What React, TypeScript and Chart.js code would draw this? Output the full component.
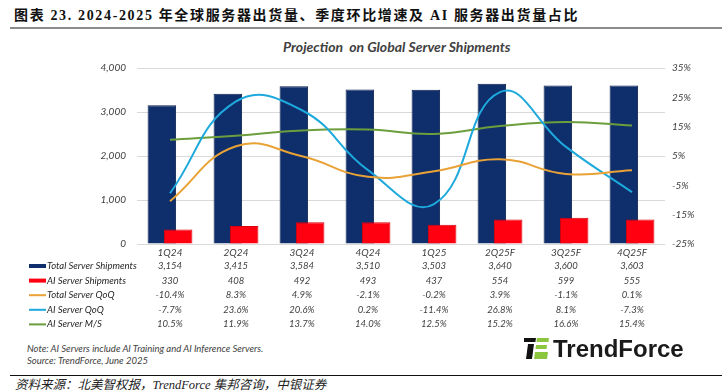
import React, { useEffect, useRef } from "react";
import { Chart, registerables } from "chart.js";

Chart.register(...registerables);

const quarters = ["1Q24", "2Q24", "3Q24", "4Q24", "1Q25", "2Q25F", "3Q25F", "4Q25F"];
const totalShipments = [3154, 3415, 3584, 3510, 3503, 3640, 3600, 3603];
const aiShipments = [330, 408, 492, 493, 437, 554, 599, 555];
const totalQoQ = [-10.4, 8.3, 4.9, -2.1, -0.2, 3.9, -1.1, 0.1];
const aiQoQ = [-7.7, 23.6, 20.6, 0.2, -11.4, 26.8, 8.1, -7.3];
const aiShare = [10.5, 11.9, 13.7, 14.0, 12.5, 15.2, 16.6, 15.4];

const NAVY = "#0F2E6C";
const RED = "#FF0010";
const ORANGE = "#E9A236";
const BLUE = "#1EA9DC";
const GREEN = "#6C9E3D";
const TEXT = "#404040";
const FONT = "Lato, 'Open Sans', sans-serif";

const fmtInt = (v: number) => v.toLocaleString("en-US");
const fmtPct = (v: number) => v.toFixed(1) + "%";

const tableRows = [
  { label: "Total Server Shipments", values: totalShipments.map(fmtInt), color: NAVY, kind: "bar" },
  { label: "AI Server Shipments", values: aiShipments.map(fmtInt), color: RED, kind: "bar" },
  { label: "Total Server QoQ", values: totalQoQ.map(fmtPct), color: ORANGE, kind: "line" },
  { label: "AI Server QoQ", values: aiQoQ.map(fmtPct), color: BLUE, kind: "line" },
  { label: "AI Server M/S", values: aiShare.map(fmtPct), color: GREEN, kind: "line" },
];

const NAVY_IDX = 3;
const RED_IDX = 4;

// Draw the red bars right after the navy bars, so they sit above them (lines stay on top).
const drawOrderPlugin = {
  id: "drawOrder",
  beforeDatasetDraw(chart: any, args: any) {
    if (args.index === RED_IDX && !chart.$drawingRed) return false;
    return true;
  },
  afterDatasetDraw(chart: any, args: any) {
    if (args.index === NAVY_IDX) {
      chart.$drawingRed = true;
      chart.getDatasetMeta(RED_IDX).controller.draw();
      chart.$drawingRed = false;
    }
  },
};

const tablePlugin = {
  id: "dataTable",
  afterDraw(chart: any) {
    const { ctx, chartArea, scales } = chart;
    const xs = scales.x;
    ctx.save();
    ctx.font = `italic 9.5px ${FONT}`;
    ctx.textBaseline = "middle";
    tableRows.forEach((row, i) => {
      const y = chartArea.bottom + 22 + i * 14.6;
      ctx.fillStyle = row.color;
      if (row.kind === "bar") ctx.fillRect(29, y - 2, 17, 4);
      else ctx.fillRect(29, y - 1, 17, 2);
      ctx.fillStyle = "#262626";
      ctx.textAlign = "left";
      ctx.fillText(row.label, 47, y);
      ctx.fillStyle = TEXT;
      ctx.textAlign = "center";
      row.values.forEach((v, j) => {
        ctx.fillText(v, xs.getPixelForValue(j), y);
      });
    });
    ctx.restore();
  },
};

function ServerChart() {
  const ref = useRef<HTMLCanvasElement | null>(null);
  useEffect(() => {
    if (!ref.current) return;
    const tickFont = { family: FONT, size: 10, style: "italic" as const };
    const lineBase = { type: "line", borderWidth: 2, pointRadius: 0, tension: 0.45, yAxisID: "y1" };
    const chart = new Chart(ref.current, {
      type: "bar",
      data: {
        labels: quarters,
        datasets: [
          { ...lineBase, label: "Total Server QoQ", data: totalQoQ, borderColor: ORANGE, backgroundColor: ORANGE, order: 0 },
          { ...lineBase, label: "AI Server QoQ", data: aiQoQ, borderColor: BLUE, backgroundColor: BLUE, order: 1 },
          { ...lineBase, label: "AI Server M/S", data: aiShare, borderColor: GREEN, backgroundColor: GREEN, order: 2 },
          {
            type: "bar",
            label: "Total Server Shipments",
            data: totalShipments,
            backgroundColor: NAVY,
            borderColor: "#0A1F4C",
            borderWidth: 1,
            yAxisID: "y",
            order: 3,
          },
          {
            type: "bar",
            label: "AI Server Shipments",
            data: aiShipments,
            backgroundColor: RED,
            borderColor: "#D8000C",
            borderWidth: 1,
            yAxisID: "y",
            order: 4,
          },
        ] as any,
      },
      options: {
        animation: false,
        responsive: false,
        maintainAspectRatio: false,
        events: [],
        layout: { padding: { top: 28, bottom: 76, left: 0, right: 0 } },
        datasets: {
          bar: { categoryPercentage: 0.494, barPercentage: 1.75 },
        } as any,
        plugins: {
          legend: { display: false },
          title: { display: false },
          tooltip: { enabled: false },
        },
        scales: {
          x: {
            type: "category",
            offset: true,
            grid: { display: false, drawTicks: false },
            border: { display: false },
            ticks: { font: tickFont, color: TEXT, padding: 3, maxRotation: 0, autoSkip: false },
            afterFit: (s: any) => {
              s.height = 20;
            },
          },
          y: {
            position: "left",
            min: 0,
            max: 4000,
            grid: { color: "#D9D9D9", lineWidth: 1, drawTicks: false },
            border: { display: false },
            ticks: {
              stepSize: 1000,
              font: tickFont,
              color: TEXT,
              padding: 11,
              callback: (v: any) => Number(v).toLocaleString("en-US"),
            },
            afterFit: (s: any) => {
              s.width = 137;
            },
          },
          y1: {
            position: "right",
            min: -25,
            max: 35,
            grid: { display: false, drawTicks: false },
            border: { display: false },
            ticks: {
              stepSize: 10,
              font: tickFont,
              color: TEXT,
              padding: 7,
              callback: (v: any) => `${v}%`,
            },
            afterFit: (s: any) => {
              s.width = 62;
            },
          },
        } as any,
      },
      plugins: [drawOrderPlugin, tablePlugin],
    });
    return () => chart.destroy();
  }, []);
  return (
    <canvas
      ref={ref}
      width={727}
      height={300}
      style={{ position: "absolute", left: 0, top: 40, width: 727, height: 300 }}
    />
  );
}

function Logo() {
  return (
    <div style={{ position: "absolute", left: 524, top: 338, height: 22 }}>
      <svg width="25" height="21" viewBox="0 0 25 21" style={{ position: "absolute", left: 0, top: 0 }}>
        <polygon points="0,0 12,0 11.4,4 0,4" fill="#111" />
        <polygon points="4,6 10,6 8,21 2,21" fill="#111" />
        <polygon points="13,0 25,0 24.4,4 12.4,4" fill="#8CC63F" />
        <polygon points="12,7 23,7 22.5,11 11.4,11" fill="#8CC63F" />
        <polygon points="11,14 24,14 23,21 10,21" fill="#8CC63F" />
      </svg>
      <div
        style={{
          position: "absolute",
          left: 29,
          top: -1,
          fontFamily: "'Liberation Sans', Arial, sans-serif",
          fontWeight: 700,
          fontSize: 24,
          lineHeight: "24px",
          color: "#1A1A1A",
          whiteSpace: "nowrap",
        }}
      >
        TrendForce
      </div>
    </div>
  );
}

export default function App() {
  return (
    <div
      style={{
        position: "absolute",
        left: 0,
        top: 0,
        width: 727,
        height: 391,
        background: "#fff",
        overflow: "hidden",
      }}
    >
      <div
        style={{
          position: "absolute",
          left: 14,
          top: 7,
          fontFamily: "'Liberation Serif', 'Noto Sans CJK SC', serif",
          fontWeight: 700,
          fontSize: 14,
          lineHeight: "18px",
          letterSpacing: 1.65,
          color: "#111",
          whiteSpace: "nowrap",
        }}
      >
        图表 23. 2024-2025 年全球服务器出货量、季度环比增速及 AI 服务器出货量占比
      </div>
      <div style={{ position: "absolute", left: 10, top: 27, width: 712, height: 2, background: "#8C8C8C" }} />
      <div
        style={{
          position: "absolute",
          left: 283,
          top: 38,
          fontFamily: FONT,
          fontWeight: 700,
          fontStyle: "italic",
          fontSize: 14,
          lineHeight: "17px",
          color: TEXT,
          whiteSpace: "pre",
        }}
      >
        {"Projection  on Global Server Shipments"}
      </div>
      <ServerChart />
      <div
        style={{
          position: "absolute",
          left: 27,
          top: 343,
          fontFamily: FONT,
          fontStyle: "italic",
          fontSize: 9.5,
          lineHeight: "12px",
          color: TEXT,
          whiteSpace: "nowrap",
        }}
      >
        <div>Note: AI Servers include AI Training and AI Inference Servers.</div>
        <div>Source: TrendForce, June 2025</div>
      </div>
      <Logo />
      <div style={{ position: "absolute", left: 10, top: 375, width: 712, height: 1, background: "#111" }} />
      <div
        style={{
          position: "absolute",
          left: 15,
          top: 377,
          fontFamily: "'Liberation Serif', 'Noto Sans CJK SC', serif",
          fontStyle: "italic",
          fontSize: 12.5,
          lineHeight: "16px",
          color: "#222",
          whiteSpace: "nowrap",
        }}
      >
        资料来源：北美智权报，TrendForce 集邦咨询，中银证券
      </div>
    </div>
  );
}
